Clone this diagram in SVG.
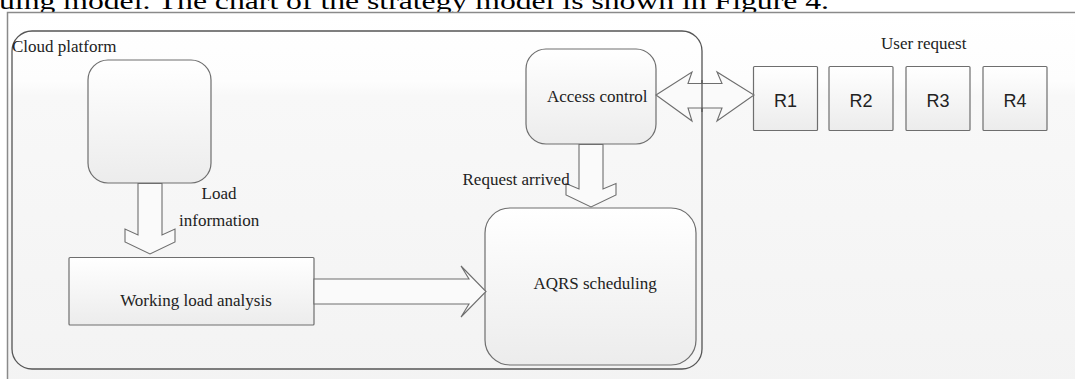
<svg xmlns="http://www.w3.org/2000/svg" width="1075" height="379" viewBox="0 0 1075 379">
<defs>
<linearGradient id="bg" x1="0" y1="0" x2="0" y2="1">
<stop offset="0" stop-color="#ffffff"/><stop offset="0.18" stop-color="#fdfdfd"/><stop offset="0.22" stop-color="#f8f8f8"/><stop offset="1" stop-color="#f3f3f3"/>
</linearGradient>
<linearGradient id="box" x1="0" y1="0" x2="0" y2="1">
<stop offset="0" stop-color="#ffffff"/><stop offset="1" stop-color="#ececec"/>
</linearGradient>
<linearGradient id="arr" x1="0" y1="0" x2="1" y2="0">
<stop offset="0" stop-color="#ffffff"/><stop offset="0.5" stop-color="#f4f4f4"/><stop offset="1" stop-color="#ffffff"/>
</linearGradient>
</defs>
<style>
.t{font-family:"Liberation Serif","Times New Roman",serif;font-size:17px;fill:#222}
.s{font-family:"Liberation Sans",Arial,sans-serif;font-size:18px;fill:#222}
.b{fill:url(#box);stroke:#6e6e6e;stroke-width:1.2}
.a{fill:#fafafa;stroke:#6e6e6e;stroke-width:1.1;stroke-linejoin:miter}
</style>
<rect x="0" y="0" width="1075" height="379" fill="#ffffff"/>
<text x="-1" y="9" font-family="Liberation Serif,'Times New Roman',serif" font-size="24" fill="#000" textLength="830" lengthAdjust="spacingAndGlyphs">uing model. The chart of the strategy model is shown in Figure 4.</text>
<rect id="frame" x="7.5" y="12.5" width="1080" height="380" fill="url(#bg)" stroke="#8a8a8a" stroke-width="1.5"/>
<g id="cloud-platform">
<rect x="12" y="31" width="690" height="338" rx="20" ry="20" fill="none" stroke="#555" stroke-width="1.3"/>
<text class="t" x="12" y="51.5">Cloud platform</text>
</g>
<g id="load-source">
<rect class="b" x="88" y="60" width="123" height="123" rx="20" ry="20"/>
</g>
<g id="access-control">
<rect class="b" x="526" y="49" width="130" height="95" rx="20" ry="20"/>
<text class="t" x="547" y="101.5">Access control</text>
</g>
<g id="working-load-analysis">
<rect class="b" x="69" y="257.5" width="245" height="67.5" rx="1"/>
<text class="t" x="196" y="305.5" text-anchor="middle">Working load analysis</text>
</g>
<g id="aqrs-scheduling">
<rect class="b" x="485" y="208" width="211" height="157" rx="25" ry="25"/>
<text class="t" x="595" y="289" text-anchor="middle">AQRS scheduling</text>
</g>
<g id="user-request">
<text class="t" x="881" y="48.5">User request</text>
<g id="r1"><rect class="b" x="753.5" y="66.5" width="64" height="64" rx="1"/><text class="s" x="785.5" y="106.5" text-anchor="middle">R1</text></g>
<g id="r2"><rect class="b" x="829" y="66.5" width="64" height="64" rx="1"/><text class="s" x="861" y="106.5" text-anchor="middle">R2</text></g>
<g id="r3"><rect class="b" x="906" y="66.5" width="64" height="64" rx="1"/><text class="s" x="938" y="106.5" text-anchor="middle">R3</text></g>
<g id="r4"><rect class="b" x="983" y="66.5" width="64" height="64" rx="1"/><text class="s" x="1015" y="106.5" text-anchor="middle">R4</text></g>
</g>
<g id="connectors">
<path class="a" d="M138,183.5 L138,235 L125,229 L125,242 L150,254 L175,242 L175,229 L162,235 L162,183.5 Z"/>
<text class="t" x="201.5" y="198.5">Load</text>
<text class="t" x="179" y="225.5">information</text>
<path class="a" d="M579,144.5 L579,189 L566,183.5 L566,195 L591,207 L616,195 L616,183.5 L603,189 L603,144.5 Z"/>
<text class="t" x="462.5" y="185">Request arrived</text>
<path class="a" d="M314,279 L469,279 L461,266 L486,291.5 L461,317 L469,304 L314,304 Z"/>
<path class="a" d="M656,95 L692,72 L688,83.5 L722,83.5 L717,72 L754,95 L717,121 L722,108 L688,108 L692,121 Z"/>
<line x1="702" y1="80" x2="702" y2="112" stroke="#555" stroke-width="1.3"/>
</g>
</svg>
